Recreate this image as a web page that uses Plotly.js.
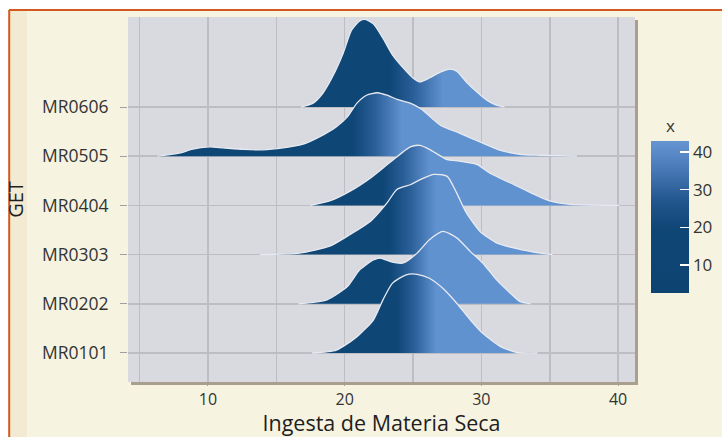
<!DOCTYPE html>
<html>
<head>
<meta charset="utf-8">
<script src="https://cdn.plot.ly/plotly-3.0.1.min.js"></script>
<style>html,body{margin:0;padding:0;background:#fff;}#chart{width:722px;height:437px;}</style>
</head>
<body>
<div id="chart"></div>
<script>
// ---- data ----
const categories = ['MR0101','MR0202','MR0303','MR0404','MR0505','MR0606'];

const x0101 = [17.6,19.4,20.9,22.1,22.8,23.5,24.5,25.3,26.2,27.2,28.2,29.2,30.1,31.4,32.6,34.1];
const h0101 = [0,0.06,0.33,0.67,1.08,1.42,1.59,1.60,1.52,1.31,1.01,0.67,0.40,0.13,0.01,0];

const x0202 = [16.6,18.7,20.2,21.1,22.1,22.6,23.3,23.8,24.3,25.3,26.2,27.2,28.2,29.2,30.1,31.1,32.1,32.8,33.6];
const h0202 = [0,0.08,0.35,0.69,0.89,0.93,0.86,0.83,0.83,1.03,1.30,1.47,1.34,1.06,0.83,0.49,0.22,0.05,0];

const x0303 = [13.8,16.7,18.9,20.4,21.9,23.1,23.8,24.8,25.5,26.5,27.5,28.2,28.9,29.9,31.1,32.6,34.3,35.2];
const h0303 = [0,0.03,0.17,0.41,0.68,1.05,1.32,1.42,1.52,1.63,1.59,1.25,0.85,0.47,0.24,0.12,0.03,0];

const x0404 = [17.5,18.9,20.4,21.9,23.3,24.8,25.5,26.2,27.5,28.4,29.7,30.6,32.1,33.6,35.0,36.5,40.1];
const h0404 = [0,0.09,0.29,0.56,0.87,1.19,1.22,1.14,0.93,0.90,0.83,0.66,0.46,0.26,0.09,0.02,0];

const x0505 = [6.3,8.0,8.8,10.1,11.1,12.6,14.0,15.5,16.9,18.4,19.4,20.2,20.9,21.6,22.4,23.1,23.9,24.8,25.6,27.0,28.4,29.9,31.4,32.8,34.3,37.0];
const h0505 = [0,0.07,0.14,0.19,0.17,0.14,0.13,0.17,0.24,0.43,0.60,0.80,1.08,1.24,1.29,1.24,1.15,1.08,0.96,0.63,0.47,0.29,0.12,0.04,0.02,0];

const x0606 = [16.8,17.7,18.4,19.1,19.9,20.5,21.1,21.5,22.1,22.8,23.5,24.3,25.0,25.5,26.2,27.0,27.7,28.2,28.9,29.7,30.4,31.1,31.7];
const h0606 = [0,0.08,0.28,0.61,1.10,1.56,1.75,1.78,1.69,1.40,1.06,0.79,0.59,0.51,0.59,0.71,0.77,0.73,0.51,0.30,0.14,0.04,0];

// where each ridge's fill turns from dark to light (x values)
const gradStart = [23.8,23.3,23.3,22.8,20.6,23.3];
const gradStop  = [26.7,26.2,26.7,26.2,24.2,27.2];

const xTicks = [10,20,30,40];
const colorTicks = [10,20,30,40];
const colorMin = 2.6, colorMax = 42.9;

const ridgeX = [x0101,x0202,x0303,x0404,x0505,x0606];
const ridgeH = [h0101,h0202,h0303,h0404,h0505,h0606];

// ---- styles ----
const DARK = '#0e4676', MID = '#2a5f98', LIGHT = '#6192d0';
const FONT = 'Open Sans, sans-serif';

const traces = [];
for (let i = categories.length - 1; i >= 0; i--) {
  const base = i + 1;
  traces.push({
    type: 'scatter',
    mode: 'lines',
    name: categories[i],
    x: ridgeX[i],
    y: ridgeH[i].map(h => base + h),
    fill: 'toself',
    fillgradient: {
      type: 'horizontal',
      colorscale: [[0, DARK], [0.45, MID], [1, LIGHT]],
      start: gradStart[i],
      stop: gradStop[i]
    },
    line: {color: '#e8eaf1', width: 1.3, shape: 'spline', smoothing: 0.6},
    hoverinfo: 'skip',
    showlegend: false
  });
}

// invisible trace carrying the colour bar
traces.push({
  type: 'scatter',
  mode: 'markers',
  x: [-100], y: [-100],
  marker: {
    color: [colorMin], cmin: colorMin, cmax: colorMax,
    colorscale: [[0,'#0c4371'],[0.42,'#0e4676'],[0.6,'#21558c'],[0.8,'#4677b4'],[1,'#6695d2']],
    showscale: true,
    size: 1,
    colorbar: {
      x: 1.0316, xanchor: 'left', xpad: 0,
      y: 0.452, yanchor: 'middle', ypad: 0,
      lenmode: 'pixels', len: 152,
      thickness: 38,
      outlinewidth: 0,
      tickvals: colorTicks,
      ticks: 'inside', ticklen: 9, tickwidth: 1.5, tickcolor: '#ffffff',
      tickfont: {family: FONT, size: 17, color: '#333333'}
    }
  },
  hoverinfo: 'skip',
  showlegend: false
});

// pixel -> paper helpers for the frame decoration
const L = 128, T = 17, W = 507, H = 365;
const px = v => (v - L) / W;
const py = v => (T + H - v) / H;

const shapes = [
  {type:'rect', xref:'paper', yref:'paper', x0:px(0), x1:px(722), y0:py(9.5), y1:py(-1), fillcolor:'#ffffff', line:{width:0}},
  {type:'rect', xref:'paper', yref:'paper', x0:px(-1), x1:px(8.5), y0:py(438), y1:py(-1), fillcolor:'#ffffff', line:{width:0}},
  {type:'rect', xref:'paper', yref:'paper', x0:px(10), x1:px(27), y0:py(438), y1:py(11), fillcolor:'#f2ead3', line:{width:0}},
  {type:'line', xref:'paper', yref:'paper', x0:px(9), x1:px(723), y0:py(10), y1:py(10), line:{color:'#d25a20', width:2}},
  {type:'line', xref:'paper', yref:'paper', x0:px(9.2), x1:px(9.2), y0:py(10), y1:py(438), line:{color:'#d25a20', width:2}},
  {type:'line', xref:'paper', yref:'paper', x0:px(131), x1:px(637), y0:py(383.5), y1:py(383.5), line:{color:'#a99f8f', width:3}},
  {type:'line', xref:'paper', yref:'paper', x0:px(636.5), x1:px(636.5), y0:py(20), y1:py(385), line:{color:'#a99f8f', width:3}}
];

const layout = {
  width: 722, height: 437,
  margin: {l: L, r: 722 - L - W, t: T, b: 437 - T - H, pad: 0, autoexpand: false},
  paper_bgcolor: '#f6f3e1',
  plot_bgcolor: '#d9dadf',
  font: {family: FONT, color: '#333333'},
  showlegend: false,
  xaxis: {
    range: [4.15, 41.24],
    tickvals: xTicks,
    ticks: 'outside', ticklen: 3, tickcolor: '#a0a0a0',
    tickfont: {size: 16, color: '#333333'},
    showgrid: true, gridcolor: '#bdbdc3', gridwidth: 1.6,
    minor: {dtick: 5, showgrid: true, gridcolor: '#bdbdc3', gridwidth: 1.6},
    zeroline: false, showline: false,
    automargin: true,
    title: {text: 'Ingesta de Materia Seca', font: {size: 21.5, color: '#1e1e1e'}, standoff: 3}
  },
  yaxis: {
    range: [0.41, 7.83],
    tickvals: [1,2,3,4,5,6],
    ticktext: categories,
    ticks: 'outside', ticklen: 7, tickcolor: '#a0a0a0',
    ticklabelstandoff: 8,
    tickfont: {size: 17.5, color: '#333333'},
    showgrid: true, gridcolor: '#bdbdc3', gridwidth: 1.6,
    zeroline: false, showline: false,
    automargin: true,
    title: {text: 'GET', font: {size: 20, color: '#1e1e1e'}, standoff: 12}
  },
  annotations: [
    {xref:'paper', yref:'paper', x: px(670), y: py(125), text: 'x', showarrow: false,
     xanchor: 'center', yanchor: 'middle', font: {family: FONT, size: 17, color: '#333333'}}
  ],
  shapes: shapes
};

Plotly.newPlot('chart', traces, layout, {displayModeBar: false, staticPlot: true});
</script>
</body>
</html>
